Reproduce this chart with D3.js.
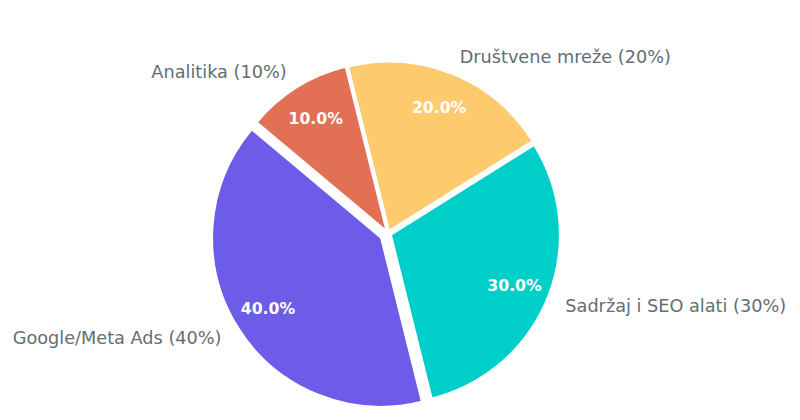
<!DOCTYPE html>
<html><head><meta charset="utf-8">
<script src="https://cdn.jsdelivr.net/npm/d3@7"></script>
<style>html,body{margin:0;padding:0;background:#fff;}</style>
</head><body>
<svg id="chart" width="800" height="420"></svg>
<script>
const categories = ["Google/Meta Ads", "Sadržaj i SEO alati", "Društvene mreže", "Analitika"];
const values = [40, 30, 20, 10];
const explodeFrac = [0.05, 0.02, 0.02, 0.02];
const colors = ["#6c5ce7", "#00cec9", "#fdcb6e", "#e17055"];

const W = 800, H = 420;
const cx = 388, cy = 233.5, R = 168.5;
const svg = d3.select("#chart");

const start = (90 - 140) * Math.PI / 180;
const pie = d3.pie().sort(null).value(d => d.v).startAngle(start).endAngle(start - 2 * Math.PI);
const data = categories.map((c, i) => ({c, v: values[i], ex: explodeFrac[i], col: colors[i]}));
const arcs = pie(data);
const arc = d3.arc().innerRadius(0).outerRadius(R);
const total = d3.sum(values);

const g = svg.append("g").attr("transform", `translate(${cx},${cy})`);

arcs.forEach(a => {
  const mid = (a.startAngle + a.endAngle) / 2;
  const dx = Math.sin(mid), dy = -Math.cos(mid);
  const off = a.data.ex * R;
  const ox = dx * off, oy = dy * off;
  const wg = g.append("g").attr("transform", `translate(${ox},${oy})`);
  wg.append("path").attr("d", arc(a)).attr("fill", a.data.col)
    .attr("stroke", "#fff").attr("stroke-width", 1.5).attr("stroke-linejoin", "round");
  const pr = 0.79 * R;
  wg.append("text").attr("x", dx * pr).attr("y", dy * pr + 0.5)
    .attr("text-anchor", "middle").attr("dominant-baseline", "central")
    .attr("font-family", "DejaVu Sans").attr("font-weight", "bold").attr("font-size", 15.7)
    .attr("fill", "#fff").text((a.data.v / total * 100).toFixed(1) + "%");
  const lr = 1.115 * R;
  wg.append("text").attr("x", dx * lr).attr("y", dy * lr + 0.5)
    .attr("text-anchor", dx >= 0 ? "start" : "end").attr("dominant-baseline", "central")
    .attr("font-family", "DejaVu Sans").attr("font-size", 17.7)
    .attr("fill", "#636e72").text(`${a.data.c} (${a.data.v}%)`);
});
</script>
</body></html>
